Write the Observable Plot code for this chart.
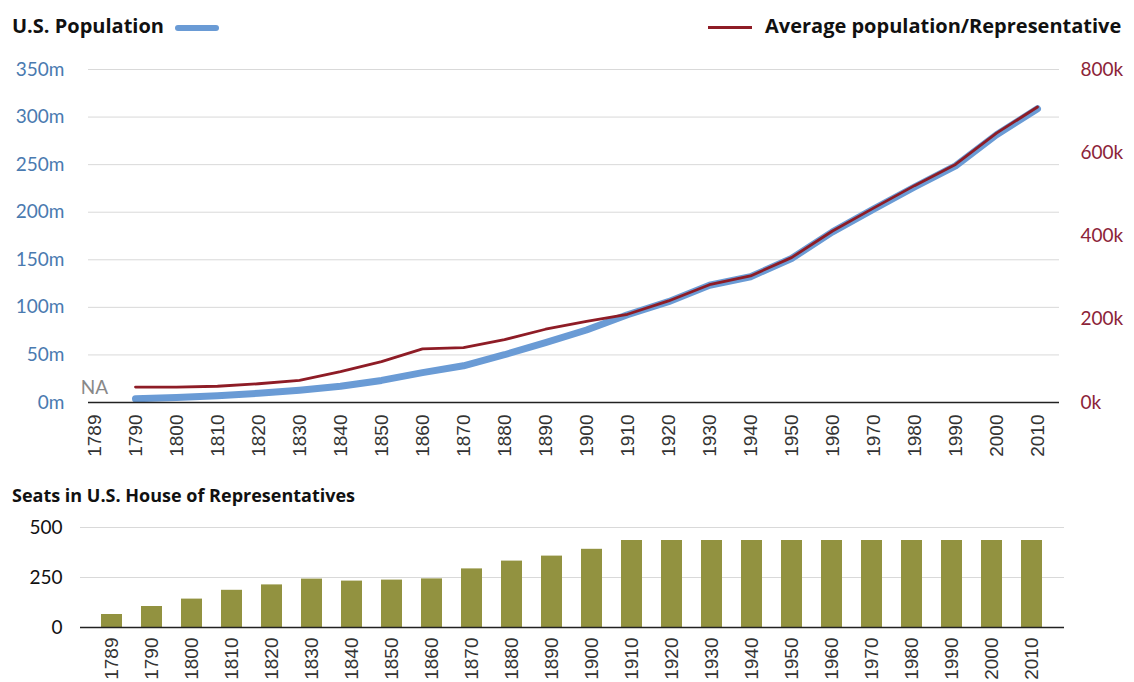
<!DOCTYPE html>
<html>
<head>
<meta charset="utf-8">
<script src="https://cdn.jsdelivr.net/npm/d3@7"></script>
<script src="https://cdn.jsdelivr.net/npm/@observablehq/plot@0.6"></script>
<style>
  html, body { margin: 0; padding: 0; background: #fff; }
  #wrap { position: relative; width: 1134px; height: 682px; overflow: hidden; font-family: Lato, "Open Sans", sans-serif; }
  .title { position: absolute; font-family: "Open Sans", Lato, sans-serif; font-weight: bold; color: #111; line-height: 1; white-space: nowrap; }
  .swatch { position: absolute; }
  .chart { position: absolute; left: 0; }
</style>
</head>
<body>
<div id="wrap">
  <div class="title" style="left:12px; top:16px; font-size:20px;">U.S. Population</div>
  <div class="swatch" style="left:175px; top:25px; width:44px; height:6px; background:#6a9bd5; border-radius:3px;"></div>
  <div class="swatch" style="left:708px; top:26px; width:44px; height:3px; background:#8e1c26;"></div>
  <div class="title" style="left:765px; top:16px; font-size:20px;">Average population/Representative</div>
  <div class="title" style="left:12px; top:486px; font-size:18px;">Seats in U.S. House of Representatives</div>
  <div id="topChart" class="chart" style="top:50px;"></div>
  <div id="bottomChart" class="chart" style="top:510px;"></div>
</div>
<script>
// Categories (census / apportionment years)
const years = ["1789","1790","1800","1810","1820","1830","1840","1850","1860","1870","1880","1890",
  "1900","1910","1920","1930","1940","1950","1960","1970","1980","1990","2000","2010"];
const popYears = years.slice(1);
// U.S. population, millions (1790..2010)
const population = [3.9, 5.3, 7.2, 9.6, 12.9, 17.1, 23.2, 31.4, 38.6, 50.2, 62.9, 76.2,
  92.2, 106.0, 123.2, 132.2, 151.3, 179.3, 203.3, 226.5, 248.7, 281.4, 308.7];
// Average population per representative, thousands (1790..2010)
const avgPerRep = [37, 37, 39, 45, 53, 74, 98, 129, 132, 151, 176, 195,
  212, 244, 283, 304, 348, 412, 467, 521, 572, 647, 710];
// Seats in the House (1789..2010)
const seats = [65, 105, 142, 186, 213, 242, 232, 237, 243, 293, 332, 357, 391,
  435, 435, 435, 435, 435, 435, 435, 435, 435, 435, 435];
// Tick labels
const leftTicks = [0, 50, 100, 150, 200, 250, 300, 350];
const rightTicks = [0, 200, 400, 600, 800];
const seatTicks = [0, 250, 500];

const BLUE = "#6a9bd5", RED = "#8e1c26", OLIVE = "#929240";
const rightToLeft = 350 / 800; // 800k on the right axis aligns with 350m on the left

const popData = popYears.map((year, i) => ({year, pop: population[i]}));
const avgData = popYears.map((year, i) => ({year, avg: avgPerRep[i]}));
const seatData = years.map((year, i) => ({year, seats: seats[i]}));

const font = "Lato, 'Open Sans', sans-serif";
const xFont = "'Liberation Sans', Arial, sans-serif";

const topPlot = Plot.plot({
  width: 1134, height: 407,
  marginLeft: 88, marginRight: 75, marginTop: 19, marginBottom: 55,
  style: {background: "transparent", overflow: "visible"},
  x: {type: "point", domain: years, range: [90, 1041], padding: 0},
  y: {domain: [0, 350]},
  marks: [
    Plot.ruleY(leftTicks.filter(d => d > 0), {stroke: "#d9d9d9", strokeWidth: 1}),
    Plot.axisY({ticks: leftTicks, tickFormat: d => d + "m", tickSize: 0, tickPadding: 24,
      fill: "#4a7ab0", fontSize: 19, fontFamily: font, label: null}),
    Plot.axisY({anchor: "right", ticks: rightTicks.map(k => k * rightToLeft),
      tickFormat: d => Math.round(d / rightToLeft) + "k", tickSize: 0, tickPadding: 21,
      fill: "#8c2438", fontSize: 19, fontFamily: font, label: null}),
    Plot.axisX({tickRotate: -90, tickSize: 0, tickPadding: 12, fontSize: 19,
      fontFamily: xFont, fill: "#333", label: null}),
    Plot.lineY(popData, {x: "year", y: "pop", stroke: BLUE, strokeWidth: 7, strokeLinecap: "round", strokeLinejoin: "round"}),
    Plot.lineY(avgData, {x: "year", y: d => d.avg * rightToLeft, stroke: RED, strokeWidth: 2.8}),
    Plot.ruleY([0], {stroke: "#222", strokeWidth: 1.5}),
    Plot.text(["NA"], {x: () => years[0], y: () => 0, dy: -15, fill: "#888", fontSize: 19, fontFamily: font})
  ]
});
document.getElementById("topChart").appendChild(topPlot);

const bottomPlot = Plot.plot({
  width: 1134, height: 172,
  marginLeft: 80, marginRight: 70, marginTop: 17, marginBottom: 55,
  style: {background: "transparent", overflow: "visible"},
  x: {type: "band", domain: years, paddingInner: 0.47, paddingOuter: 0.265},
  y: {domain: [0, 500]},
  marks: [
    Plot.ruleY(seatTicks.filter(d => d > 0), {stroke: "#d9d9d9", strokeWidth: 1}),
    Plot.barY(seatData, {x: "year", y: "seats", fill: OLIVE}),
    Plot.axisY({ticks: seatTicks, tickSize: 0, tickPadding: 18, fill: "#111",
      fontSize: 19, fontFamily: font, label: null}),
    Plot.axisX({tickRotate: -90, tickSize: 0, tickPadding: 10, fontSize: 19,
      fontFamily: xFont, fill: "#333", label: null}),
    Plot.ruleY([0], {stroke: "#222", strokeWidth: 1.5})
  ]
});
document.getElementById("bottomChart").appendChild(bottomPlot);
</script>
</body>
</html>
